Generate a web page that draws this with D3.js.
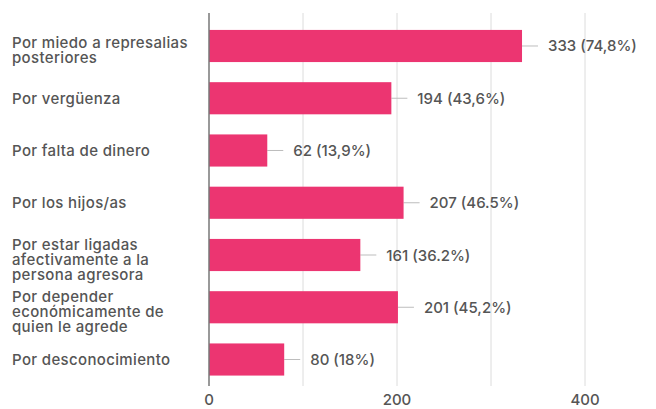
<!DOCTYPE html>
<html>
<head>
<meta charset="utf-8">
<script src="https://cdn.jsdelivr.net/npm/d3@7"></script>
<style>
  body { margin: 0; background: #fff; }
  svg { display: block; font-family: Inter, "Open Sans", sans-serif; }
  .cat { font-size: 15px; font-weight: 500; fill: #555; letter-spacing: 0.35px; }
  .val { font-size: 15px; font-weight: 500; fill: #555; }
  .tick-label { font-size: 15px; font-weight: 500; fill: #555; }
</style>
</head>
<body>
<svg></svg>
<script>
const categories = [
  "Por miedo a represalias\nposteriores",
  "Por vergüenza",
  "Por falta de dinero",
  "Por los hijos/as",
  "Por estar ligadas\nafectivamente a la\npersona agresora",
  "Por depender\neconómicamente de\nquien le agrede",
  "Por desconocimiento"
]
const values = [333, 194, 62, 207, 161, 201, 80]
const percents = ["74,8%", "43,6%", "13,9%", "46.5%", "36.2%", "45,2%", "18%"]
const gridValues = [0, 100, 200, 300, 400]
const tickValues = [0, 200, 400]

const width = 656
const height = 409

const svg = d3.select("svg")
  .attr("width", width)
  .attr("height", height)

const x = d3.scaleLinear()
  .domain([0, 400])
  .range([209, 585])

const y = d3.scaleBand()
  .domain(categories)
  .range([20, 385.5])
  .paddingInner(0.385)
  .paddingOuter(0.19)

// grid
svg.append("g")
  .selectAll("line")
  .data(gridValues.filter(d => d > 0))
  .enter()
  .append("line")
  .attr("x1", d => x(d))
  .attr("x2", d => x(d))
  .attr("y1", 13)
  .attr("y2", 386)
  .style("stroke", "#dcdcdc")
  .style("stroke-width", 1)

svg.append("g")
  .selectAll("text")
  .data(tickValues)
  .enter()
  .append("text")
  .attr("class", "tick-label")
  .attr("x", d => x(d))
  .attr("y", 405)
  .attr("text-anchor", "middle")
  .text(d => d)

const rows = svg.selectAll("g.row")
  .data(categories)
  .enter()
  .append("g")
  .attr("class", "row")

// leader lines
rows.append("line")
  .attr("x1", (d, i) => x(values[i]))
  .attr("x2", (d, i) => x(values[i]) + 16)
  .attr("y1", d => y(d) + y.bandwidth() / 2)
  .attr("y2", d => y(d) + y.bandwidth() / 2)
  .style("stroke", "#bdbdbd")
  .style("stroke-width", 1)

rows.append("rect")
  .attr("x", x(0))
  .attr("y", d => y(d))
  .attr("width", (d, i) => x(values[i]) - x(0))
  .attr("height", y.bandwidth())
  .style("fill", "#ec3571")

rows.append("text")
  .attr("class", "val")
  .attr("x", (d, i) => x(values[i]) + 26)
  .attr("y", d => y(d) + y.bandwidth() / 2 + 5.5)
  .text((d, i) => `${values[i]} (${percents[i]})`)

// category labels, wrapped on \n
const lh = 15
rows.append("text")
  .attr("class", "cat")
  .attr("x", 12)
  .attr("y", d => {
    const n = d.split("\n").length
    return y(d) + y.bandwidth() / 2 + 5.5 - (n - 1) * lh / 2 + (n > 1 ? 4 : 0)
  })
  .selectAll("tspan")
  .data(d => d.split("\n"))
  .enter()
  .append("tspan")
  .attr("x", 12)
  .attr("dy", (d, i) => i === 0 ? 0 : lh)
  .text(d => d)

// zero axis
svg.append("line")
  .attr("x1", x(0))
  .attr("x2", x(0))
  .attr("y1", 13)
  .attr("y2", 386)
  .style("stroke", "#777")
  .style("stroke-width", 1.5)
</script>
</body>
</html>
